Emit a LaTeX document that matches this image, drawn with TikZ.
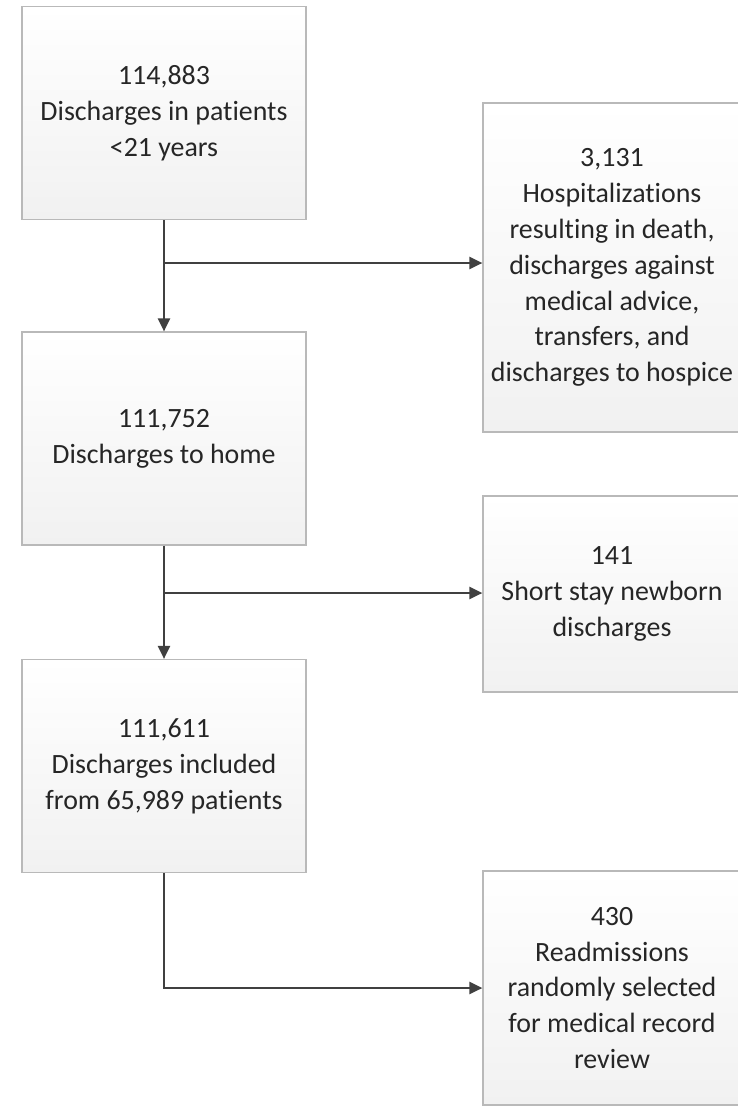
\documentclass[tikz,border=0pt]{standalone}
\usepackage{fontspec}
\setmainfont{Carlito}[Ligatures=NoCommon]
\usetikzlibrary{arrows.meta}

\tikzset{
  flowbox/.style = {draw=gray!55, line width=1.2bp, top color=white, bottom color=gray!11,
    align=center, inner sep=0pt, text=black!85, font=\fontsize{28}{36}\selectfont},
  leftbox/.style = {flowbox, minimum width=284bp, minimum height=213bp},
  rightbox/.style = {flowbox, minimum width=258bp},
  flowarrow/.style = {draw=black!75, line width=2.2bp, -{Triangle[length=13bp,width=12bp]}},
}

\begin{document}
\begin{tikzpicture}[x=1bp, y=-1bp]
			\def\lx{164};
			\def\rx{612};

			\useasboundingbox (0,0) rectangle (738,1107);

			% main column
			\node [leftbox] (patients) at (\lx,113) {114,883\\Discharges in patients\\<21 years};
			\node [leftbox] (home) at (\lx,438.5) {111,752\\Discharges to home};
			\node [leftbox] (included) at (\lx,766) {111,611\\Discharges included\\from 65,989 patients};

			% exclusions
			\node [rightbox, minimum height=329bp] (excluded) at (\rx,267.5) {3,131\\Hospitalizations\\resulting in death,\\discharges against\\medical advice,\\transfers, and\\discharges to hospice};
			\node [rightbox, minimum height=196bp] (newborn) at (\rx,594) {141\\Short stay newborn\\discharges};
			\node [rightbox, minimum height=234bp] (review) at (\rx,988) {430\\Readmissions\\randomly selected\\for medical record\\review};

			\coordinate (split1) at (\lx,263);
			\coordinate (split2) at (\lx,593);

			\begin{scope}
				\draw [flowarrow] (patients.south) -- (home.north);
				\draw [flowarrow] (split1) -- (split1 -| excluded.west);

				\draw [flowarrow] (home.south) -- (included.north);
				\draw [flowarrow] (split2) -- (split2 -| newborn.west);

				\draw [flowarrow] (included.south) |- (review.west);
			\end{scope}
		\end{tikzpicture}
\end{document}
